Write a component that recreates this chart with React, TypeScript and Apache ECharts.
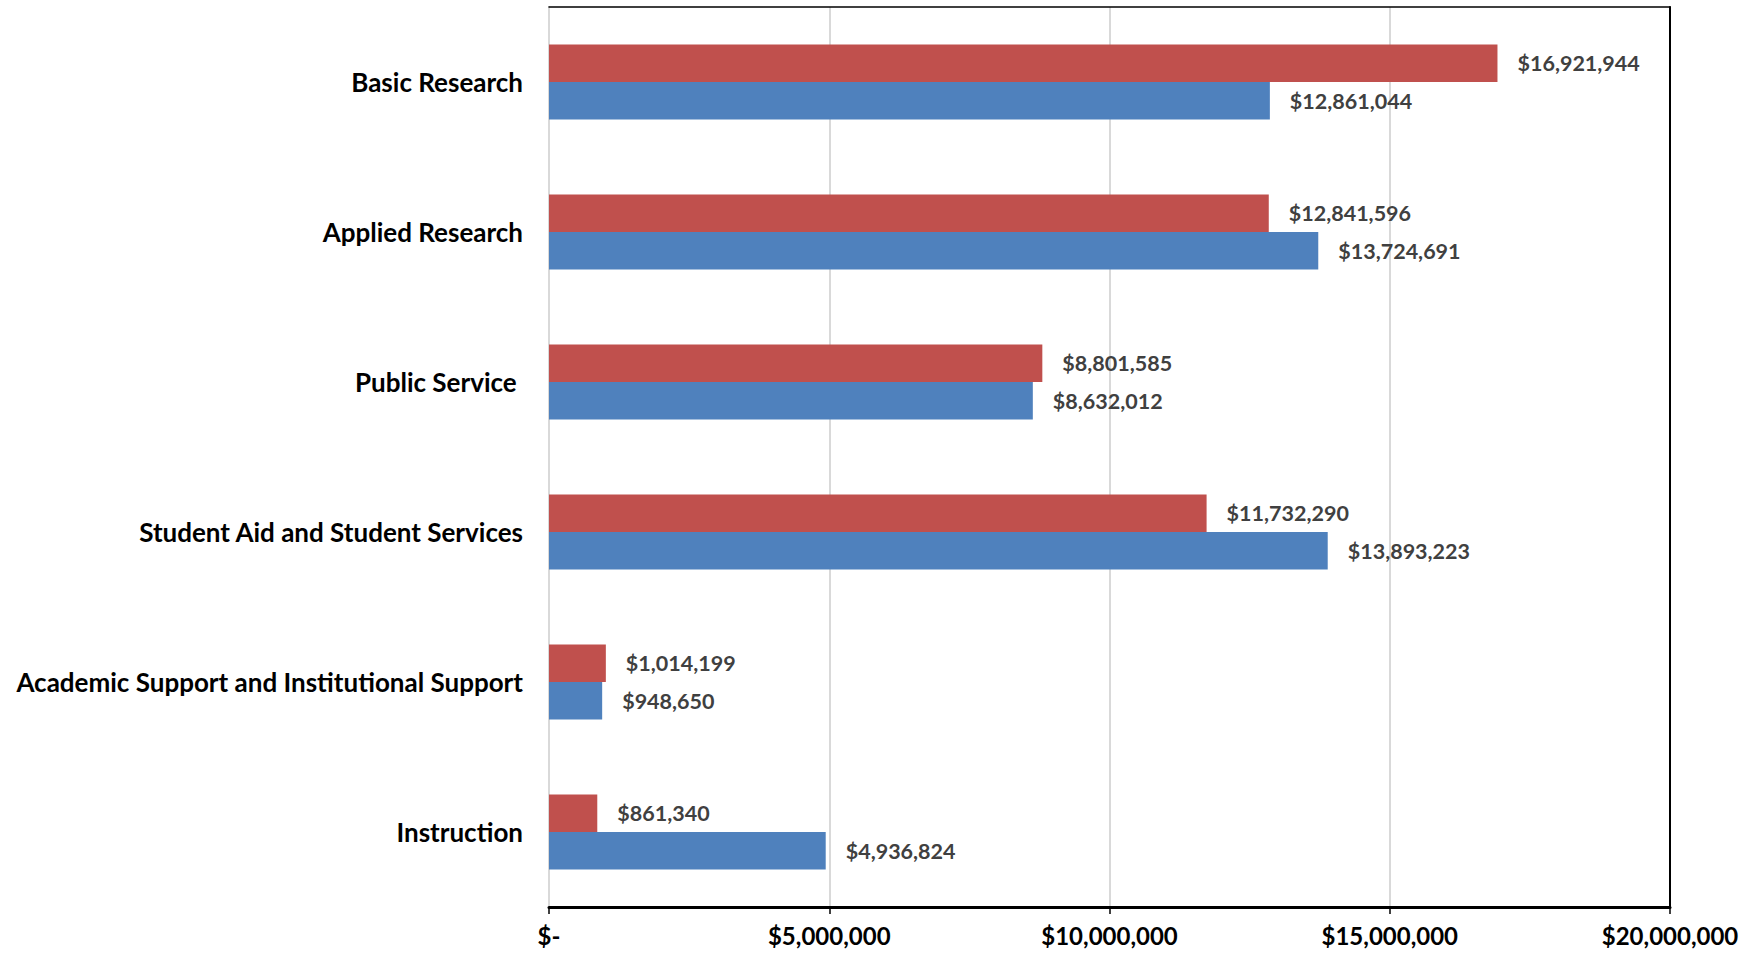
import React, { useEffect, useRef } from "react";
import * as echarts from "echarts";

const categories = [
  "Basic Research",
  "Applied Research",
  "Public Service ",
  "Student Aid and Student Services",
  "Academic Support and Institutional Support",
  "Instruction",
];
const redValues = [16921944, 12841596, 8801585, 11732290, 1014199, 861340];
const blueValues = [12861044, 13724691, 8632012, 13893223, 948650, 4936824];
const xTicks = [0, 5000000, 10000000, 15000000, 20000000];

const money = (v: number) => (v === 0 ? "$-" : "$" + Math.round(v).toLocaleString("en-US"));
const FONT = "Lato";

export default function App() {
  const ref = useRef<HTMLDivElement>(null);
  useEffect(() => {
    document.body.style.margin = "0";
    const chart = echarts.init(ref.current!, null, { renderer: "svg" });
    const labelStyle = {
      show: true,
      position: "right" as const,
      distance: 20,
      formatter: (p: any) => money(p.value),
      fontFamily: FONT,
      fontWeight: "bold" as const,
      fontSize: 21.5,
      color: "#404040",
    };
    chart.setOption({
      animation: false,
      backgroundColor: "#ffffff",
      grid: { left: 549, right: 85, top: 7, bottom: 49, containLabel: false },
      xAxis: [
        {
          type: "value",
          position: "bottom",
          min: xTicks[0],
          max: xTicks[xTicks.length - 1],
          interval: xTicks[1] - xTicks[0],
          axisLine: { show: true, onZero: false, lineStyle: { color: "#000", width: 3 } },
          axisTick: { show: true, length: 7, lineStyle: { color: "#000", width: 1.5 } },
          axisLabel: {
            margin: 16,
            formatter: (v: number) => money(v),
            fontFamily: FONT,
            fontWeight: "bold",
            fontSize: 24,
            color: "#000",
          },
          splitLine: { show: true, lineStyle: { color: "#d9d9d9", width: 2 } },
        },
        {
          type: "value",
          position: "top",
          min: xTicks[0],
          max: xTicks[xTicks.length - 1],
          interval: xTicks[1] - xTicks[0],
          axisLine: { show: true, onZero: false, lineStyle: { color: "#000", width: 1.5 } },
          axisTick: { show: false },
          axisLabel: { show: false },
          splitLine: { show: false },
        },
      ],
      yAxis: [
        {
          type: "category",
          data: categories,
          inverse: true,
          axisLine: { show: true, onZero: false, lineStyle: { color: "#d9d9d9", width: 2 } },
          axisTick: { show: false },
          axisLabel: {
            margin: 26,
            fontFamily: FONT,
            fontWeight: "bold",
            fontSize: 26,
            color: "#000",
          },
        },
        {
          type: "category",
          data: categories,
          inverse: true,
          position: "right",
          axisLine: { show: true, onZero: false, lineStyle: { color: "#000", width: 2 } },
          axisTick: { show: false },
          axisLabel: { show: false },
        },
      ],
      series: [
        {
          name: "Red",
          type: "bar",
          data: redValues,
          barGap: "0%",
          barCategoryGap: "50%",
          itemStyle: { color: "#C0504D" },
          label: labelStyle,
        },
        {
          name: "Blue",
          type: "bar",
          data: blueValues,
          barGap: "0%",
          barCategoryGap: "50%",
          itemStyle: { color: "#4F81BD" },
          label: labelStyle,
        },
      ],
    });
    return () => chart.dispose();
  }, []);
  return <div ref={ref} style={{ width: 1755, height: 956 }} />;
}
